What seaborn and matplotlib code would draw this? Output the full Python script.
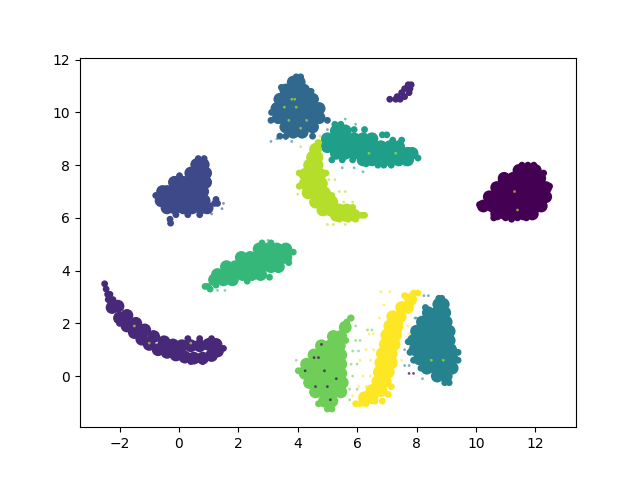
import matplotlib
matplotlib.use("Agg")
import matplotlib.pyplot as plt
import pandas as pd
import seaborn as sns

# Points, one list per cluster: (y, [x, x, ...])
core_0 = [(7.8, [11.45, 11.75, 12.0]), (7.5, [10.95, 11.25, 11.55, 11.85, 12.15]),
          (7.15, [10.7, 11, 11.3, 11.6, 11.9, 12.2, 12.35]),
          (6.8, [10.45, 10.75, 11.05, 11.35, 11.65, 11.95, 12.25, 12.35]),
          (6.45, [10.25, 10.55, 10.85, 11.15, 11.45, 11.75, 12.05, 12.2]),
          (6.15, [10.7, 11, 11.3, 11.6, 11.9])]
core_1 = [(2.6, [-2.25]), (2.2, [-2.0]), (1.9, [-1.75]), (1.65, [-1.5]), (1.4, [-1.25]),
          (1.2, [-1.0]), (1.0, [-0.7]), (0.9, [-0.4]), (0.8, [-0.1]), (0.72, [0.2]),
          (0.68, [0.5, 0.8]), (0.78, [1.1]), (0.95, [1.3]),
          (2.65, [-2.05]), (2.3, [-1.75]), (2.0, [-1.45]), (1.75, [-1.15]), (1.5, [-0.85]),
          (1.3, [-0.5]), (1.18, [-0.2]), (1.15, [0.1, 0.4, 0.7]), (1.2, [1.0, 1.25])]
core_2 = [(8.02, [0.6, 0.82]), (7.7, [0.4, 0.7, 0.9]), (7.35, [-0.15, 0.15, 0.45, 0.75, 0.9]),
          (7.0, [-0.55, -0.4, -0.1, 0.2, 0.5, 0.8]), (6.65, [-0.6, -0.3, 0, 0.3, 0.6, 0.85]),
          (6.38, [-0.4, -0.15, 0.15, 0.45, 0.75, 0.95])]
core_3 = [(11.15, [3.85, 4.05]), (10.85, [3.6, 3.9, 4.2]), (10.5, [3.4, 3.7, 4, 4.3, 4.5]),
          (10.15, [3.3, 3.6, 3.9, 4.2, 4.5, 4.72]), (9.8, [3.35, 3.65, 3.95, 4.25, 4.55, 4.72]),
          (9.45, [3.6, 3.9, 4.2, 4.5]), (9.25, [3.85, 4.15])]
core_4 = [(2.72, [8.75, 8.9]), (2.4, [8.4, 8.7, 8.95]), (2.05, [8.2, 8.5, 8.8, 9.0]),
          (1.7, [8.0, 8.3, 8.6, 8.9, 9.1]), (1.35, [7.9, 8.2, 8.5, 8.8, 9.1]),
          (1.0, [7.95, 8.25, 8.55, 8.85, 9.15]), (0.65, [8.1, 8.4, 8.7, 9.0, 9.2]),
          (0.3, [8.35, 8.65, 8.95, 9.2]), (0.0, [8.7, 9.0])]
core_5 = [(9.3, [5.3, 5.6]), (9.0, [5.0, 5.3, 5.6, 5.9, 6.2, 6.5]),
          (8.7, [5.0, 5.3, 5.6, 5.9, 6.2, 6.5, 6.8, 7.1, 7.4]),
          (8.45, [5.3, 5.6, 5.9, 6.2, 6.5, 6.8, 7.1, 7.4, 7.7, 7.85]),
          (8.2, [6.2, 6.5, 6.8, 7.1, 7.4, 7.7])]
core_6 = [(4.82, [2.7, 3.0, 3.3, 3.6]), (4.5, [2.1, 2.4, 2.7, 3.0, 3.3, 3.6]),
          (4.15, [1.6, 1.9, 2.2, 2.5, 2.8, 3.1, 3.35]),
          (3.85, [1.3, 1.55, 1.85, 2.15, 2.45, 2.75]), (3.65, [1.2, 1.5, 1.8])]
core_7 = [(1.85, [5.6]), (1.5, [5.2, 5.45]), (1.15, [4.8, 5.1, 5.4]), (0.8, [4.55, 4.85, 5.15, 5.45]),
          (0.45, [4.3, 4.6, 4.9, 5.2, 5.45]), (0.1, [4.25, 4.55, 4.85, 5.15, 5.45]),
          (-0.25, [4.4, 4.7, 5, 5.3, 5.5]), (-0.6, [4.6, 4.9, 5.2, 5.45]), (-0.95, [4.9, 5.15])]
core_8 = [(8.6, [4.6]), (8.3, [4.5, 4.65]), (8.0, [4.4, 4.65]), (7.65, [4.25, 4.5, 4.75]),
          (7.3, [4.25, 4.5, 4.8]), (6.95, [4.35, 4.6, 4.9]), (6.6, [4.6, 4.85, 5.15]),
          (6.3, [4.85, 5.1, 5.4, 5.65]), (6.1, [5.3, 5.6, 5.9])]
core_9 = [(2.9, [7.8]), (2.6, [7.5, 7.7]), (2.25, [7.2, 7.45]), (1.9, [7.1, 7.35]),
          (1.55, [7.0, 7.3]), (1.2, [6.95, 7.25]), (0.85, [6.85, 7.15]), (0.5, [6.8, 7.15]),
          (0.15, [6.75, 7.05]), (-0.2, [6.7, 6.95]), (-0.55, [6.5, 6.8]), (-0.82, [6.25, 6.5])]

# Narrow tips and edges
edge_0 = [(8.0, [11.55, 11.75, 11.95]), (6.5, [10.12]), (6.0, [10.6, 11.0, 11.4, 11.7]),
          (5.95, [11.2]), (7.2, [12.48]), (7.7, [12.28]), (7.4, [10.85])]
edge_1 = [(3.5, [-2.5]), (3.3, [-2.45]), (3.1, [-2.4, -2.32]), (2.9, [-2.38, -2.22]),
          (10.5, [7.1, 7.3, 7.45]), (10.6, [7.35, 7.6]), (10.75, [7.5, 7.75]),
          (10.9, [7.6, 7.78]), (11.05, [7.72, 7.82]), (1.42, [0.3, 0.7, 1.1]),
          (1.05, [1.5]), (0.55, [0.4, 0.8]), (2.0, [-2.0])]
edge_2 = [(6.12, [-0.1, 0.3, 0.7]), (5.95, [-0.3]), (5.8, [-0.28]), (6.85, [-0.78]),
          (8.25, [0.65, 0.85]), (6.55, [1.2, 1.3]), (6.7, [1.25]), (7.6, [0.02])]
edge_3 = [(11.35, [3.95, 4.1]), (9.1, [3.4, 3.6, 4.5]), (9.7, [3.1, 5.0]), (10.0, [3.12]),
          (10.8, [4.45]), (10.95, [3.45])]
edge_4 = [(2.95, [8.75, 8.85]), (2.6, [8.3]), (1.3, [7.72]), (0.6, [7.9]), (0.9, [7.78]),
          (-0.25, [8.95, 9.1]), (0.6, [9.4]), (0.9, [9.4]), (0.3, [8.15])]
edge_5 = [(9.55, [5.25, 5.45]), (9.35, [5.9, 6.25]), (9.15, [6.85, 7.0]), (8.95, [7.2, 7.5]),
          (8.27, [8.05]), (8.0, [6.7, 6.9, 7.15]), (8.2, [5.15, 5.5, 5.85]), (8.05, [6.3])]
edge_6 = [(3.4, [0.88, 0.98]), (3.3, [1.05]), (3.45, [1.25]), (5.05, [2.8, 3.1]),
          (4.7, [3.85]), (4.3, [3.7]), (3.75, [3.05]), (3.6, [2.3])]
edge_7 = [(2.2, [5.78, 5.8]), (2.05, [5.65]), (0.2, [4.02, 4.1]), (-1.25, [5.0, 5.15]),
          (-1.05, [4.7]), (1.35, [5.62])]
edge_8 = [(8.85, [4.68, 4.72]), (7.7, [4.05, 4.95]), (6.85, [5.15]), (6.4, [5.85]),
          (6.1, [6.15, 6.25]), (5.95, [5.4, 5.7, 5.95]), (7.2, [4.05])]
edge_9 = [(3.15, [7.9, 8.05]), (3.05, [7.6]), (-1.05, [5.95, 6.1, 6.3]), (-0.95, [6.6, 6.85]),
          (-0.7, [7.05]), (-0.4, [7.15])]

# Isolated points scattered in and around the clusters
stray_2 = [(6.35, [1.45]), (6.55, [1.5]), (6.15, [1.1])]
stray_3 = [(9.0, [3.3, 3.6]), (9.35, [5.0, 5.15]), (8.9, [3.1, 3.8])]
stray_4 = [(3.05, [8.25, 8.4]), (2.2, [7.95, 8.0]), (0.4, [7.6, 7.75]), (1.0, [7.6]), (-0.1, [8.2])]
stray_5 = [(9.75, [5.6]), (9.55, [5.95]), (7.9, [5.5, 5.9]), (7.75, [6.2]), (8.0, [7.6])]
stray_6 = [(3.25, [1.3, 1.55]), (5.15, [3.0])]
stray_7 = [(1.9, [5.95]), (1.35, [5.95, 6.1]), (0.95, [5.85, 6.05]), (0.45, [5.8, 6.0]),
           (0.0, [5.85]), (-0.5, [5.75, 6.0]), (0.6, [3.95]), (-0.9, [5.75]), (1.75, [6.35, 6.5])]
stray_8 = [(9.1, [4.2, 4.5, 4.75]), (8.7, [4.1, 4.95]), (7.45, [5.05, 5.25]), (7.0, [5.4, 5.6]),
           (6.6, [5.55, 5.85]), (6.9, [4.0]), (5.75, [5.0, 5.2, 5.6])]
stray_9 = [(3.2, [6.8, 7.1]), (2.7, [6.9]), (2.2, [6.75]), (1.6, [6.4, 6.55, 7.75]), (1.0, [6.3, 6.55]),
           (0.6, [6.1, 6.45, 7.5]), (0.0, [6.2, 6.45]), (-0.4, [6.05, 6.3]), (-0.75, [5.85]), (1.9, [7.7])]
speck_dark = [(0.7, [4.55, 4.7]), (0.2, [4.25, 4.9]), (-0.4, [5.0, 4.6]), (-0.9, [5.1]), (1.2, [4.8]),
              (0.1, [7.75, 7.9]), (-0.1, [5.3])]
speck_yellow = [(10.5, [3.8, 3.9]), (10.2, [3.55, 3.95]), (9.7, [3.7, 4.3]), (9.4, [4.1]), (1.25, [-1.0, 0.4]),
                (1.9, [-1.5]), (7.0, [11.3]), (6.3, [11.4]), (8.45, [6.4, 7.3]), (0.6, [8.5, 8.9])]

labels = list(range(10))
core_rows = [core_0, core_1, core_2, core_3, core_4, core_5, core_6, core_7, core_8, core_9]
edge_rows = [edge_0, edge_1, edge_2, edge_3, edge_4, edge_5, edge_6, edge_7, edge_8, edge_9]
stray_rows = [[], [], stray_2, stray_3, stray_4, stray_5, stray_6, stray_7, stray_8, stray_9]
speck_rows = [speck_dark, [], [], [], [], [], [], [], speck_yellow, []]


def table(groups):
    out = [(x, y, k) for k, rows in zip(labels, groups) for y, xs in rows for x in xs]
    return pd.DataFrame(out, columns=["x", "y", "label"])


fig, ax = plt.subplots(figsize=(6.4, 4.8), dpi=100)
for data, size, alpha in ((table(stray_rows), 4, 0.6), (table(edge_rows), 24, 1.0),
                          (table(core_rows), 85, 1.0), (table(speck_rows), 4, 0.7)):
    sns.scatterplot(data=data, x="x", y="y", hue="label", palette="viridis", hue_norm=(0, 9),
                    s=size, alpha=alpha, linewidth=0, legend=False, ax=ax)
ax.set_xlabel("")
ax.set_ylabel("")
ax.set_xlim(-3.33, 13.37)
ax.set_ylim(-1.94, 12.08)
fig.savefig("out.png", dpi=100)
